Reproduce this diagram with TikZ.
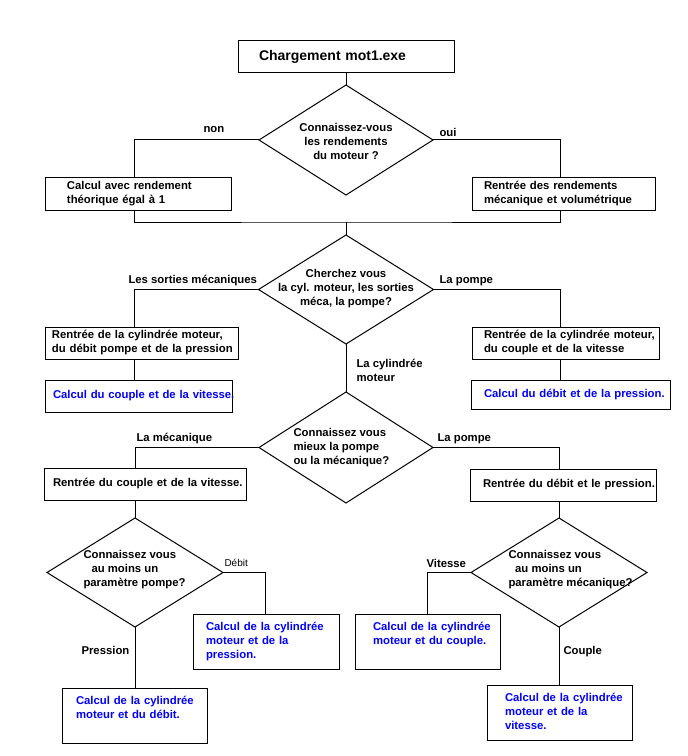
\documentclass[tikz,border=0pt]{standalone}
\usepackage{fontspec}
\setmainfont{Liberation Sans}
\usetikzlibrary{shapes.geometric,calc}
\definecolor{blu}{RGB}{0,0,255}
\newcommand\fbx[8]{%
  \pgfmathsetmacro\fbxw{(#4-#2)*0.75}%
  \pgfmathsetmacro\fbxh{(#5-#3)*0.75}%
  \pgfmathsetmacro\fbxp{#6*0.75}%
  \node[box, #7, anchor=north west, minimum width=\fbxw pt, minimum height=\fbxh pt, text width=\fbxw pt] (#1) at (#2,#3) {\hspace*{\fbxp pt}\begin{tabular}{@{}l@{}}#8\end{tabular}};}
\begin{document}
\begin{tikzpicture}[x=0.75pt, y=-0.75pt, line width=0.75pt,
  mainfont/.style={font=\fontsize{8.5}{10.5}\selectfont\bfseries},
  box/.style={draw, rectangle, inner sep=0pt, outer sep=0pt, mainfont},
  bluebox/.style={text=blu},
  dia/.style={draw, diamond, inner sep=0pt, outer sep=0pt},
  dtxt/.style={mainfont, inner sep=0pt},
  lbl/.style={mainfont, inner sep=0pt, anchor=west}]
\useasboundingbox (0,0) rectangle (688,756);
% coordinates for vertical connector lines
\coordinate (xL) at (134,0);
\coordinate (xR) at (560,0);
\coordinate (xD) at (265,0);
\coordinate (xV) at (427,0);
\coordinate (j1) at (346,222);

% top
\fbx{b1}{238}{41}{454}{73}{21}{font=\fontsize{10.5}{12}\selectfont\bfseries}{Chargement mot1.exe}
\node[dia, minimum width=130.5pt, minimum height=82.5pt] (d1) at (346,140) {};
\node[dtxt, align=center] (t1) at ($(d1.center)+(0,1)$) {Connaissez-vous\\les rendements\\du moteur ?};
\fbx{b2}{45}{177}{231}{210}{22}{}{Calcul avec rendement\\théorique égal à 1}
\fbx{b3}{472}{177}{655}{210}{12}{}{Rentrée des rendements\\mécanique et volumétrique}

% second decision
\node[dia, minimum width=131.25pt, minimum height=81.75pt] (d2) at (346,289.5) {};
\node[dtxt, align=center] (t2) at ($(d2.center)+(0,-1)$) {Cherchez vous\\la cyl. moteur, les sorties\\méca, la pompe?};
\fbx{b4}{45}{327}{238}{359}{7}{}{Rentrée de la cylindrée moteur,\\du débit pompe et de la pression}
\fbx{b5}{45}{380}{232}{412}{8}{bluebox}{Calcul du couple et de la vitesse.}
\fbx{b6}{472}{327}{659}{359}{12}{}{Rentrée de la cylindrée moteur,\\du couple et de la vitesse}
\fbx{b7}{471}{380}{670}{409}{13}{bluebox}{Calcul du débit et de la pression.}

% third decision
\node[dia, minimum width=130.5pt, minimum height=83.25pt] (d3) at (346,447.5) {};
\node[dtxt, align=left, anchor=west] (t3) at ($(d3.center)+(-53,0)$) {Connaissez vous\\mieux la pompe\\ou la mécanique?};
\fbx{b8}{44}{468}{246}{500}{9}{}{Rentrée du couple et de la vitesse.}
\fbx{b11}{470}{469}{656}{501}{13}{}{Rentrée du débit et le pression.}

% lower decisions
\node[dia, minimum width=132pt, minimum height=81.75pt] (d4) at (135,572.5) {};
\node[dtxt, align=left, anchor=west] (t4) at ($(d4.center)+(-52,-2.5)$) {Connaissez vous\\\hspace*{6pt}au moins un\\paramètre pompe?};
\node[dia, minimum width=132pt, minimum height=81.75pt] (d5) at (559,572.5) {};
\node[dtxt, align=left, anchor=west] (t5) at ($(d5.center)+(-51,-2.5)$) {Connaissez vous\\\hspace*{5pt}au moins un\\paramètre mécanique?};
\fbx{b9}{193}{614}{339}{669}{13}{bluebox}{Calcul de la cylindrée\\moteur et de la\\pression.}
\fbx{b10}{62}{688}{207}{743}{14}{bluebox}{Calcul de la cylindrée\\moteur et du débit.\\\mbox{}}
\fbx{b12}{355}{614}{500}{669}{18}{bluebox}{Calcul de la cylindrée\\moteur et du couple.\\\mbox{}}
\fbx{b13}{487}{685}{632}{740}{18}{bluebox}{Calcul de la cylindrée\\moteur et de la\\vitesse.}

% connector labels
\node[lbl] (lnon) at (203,130) {non};
\node[lbl] (loui) at (439,132) {oui};
\node[lbl] (lsm) at (128,281) {Les sorties mécaniques};
\node[lbl] (lp1) at (439,281) {La pompe};
\node[lbl, align=left] (lcyl) at (356,370) {La cylindrée\\moteur};
\node[lbl] (lmec) at (136,439) {La mécanique};
\node[lbl] (lp2) at (437,439) {La pompe};
\node[lbl, font=\fontsize{7.5}{9}\selectfont] (ldeb) at (224,563) {Débit};
\node[lbl] (lpre) at (81,650) {Pression};
\node[lbl] (lvit) at (426,563) {Vitesse};
\node[lbl] (lcou) at (563,652) {Couple};

% connectors
\draw (b1.south) -- (d1.north);
\draw (d1.west) -| (xL |- b2.north);
\draw (d1.east) -| (xR |- b3.north);
\draw (xL |- b2.south) |- (j1) -| (xR |- b3.south);
\draw (j1) -- (d2.north);
\draw (d2.west) -| (xL |- b4.north);
\draw (xL |- b4.south) -- (xL |- b5.north);
\draw (d2.east) -| (xR |- b6.north);
\draw (xR |- b6.south) -- (xR |- b7.north);
\draw (d2.south) -- (d3.north);
\draw (d3.west) -| (d4.north |- b8.north);
\draw (d4.north |- b8.south) -- (d4.north);
\draw (d3.east) -| (d5.north |- b11.north);
\draw (d5.north |- b11.south) -- (d5.north);
\draw (d4.east) -| (xD |- b9.north);
\draw (d4.south) -- (d4.south |- b10.north);
\draw (d5.west) -| (xV |- b12.north);
\draw (d5.south) -- (d5.south |- b13.north);
\end{tikzpicture}
\end{document}
